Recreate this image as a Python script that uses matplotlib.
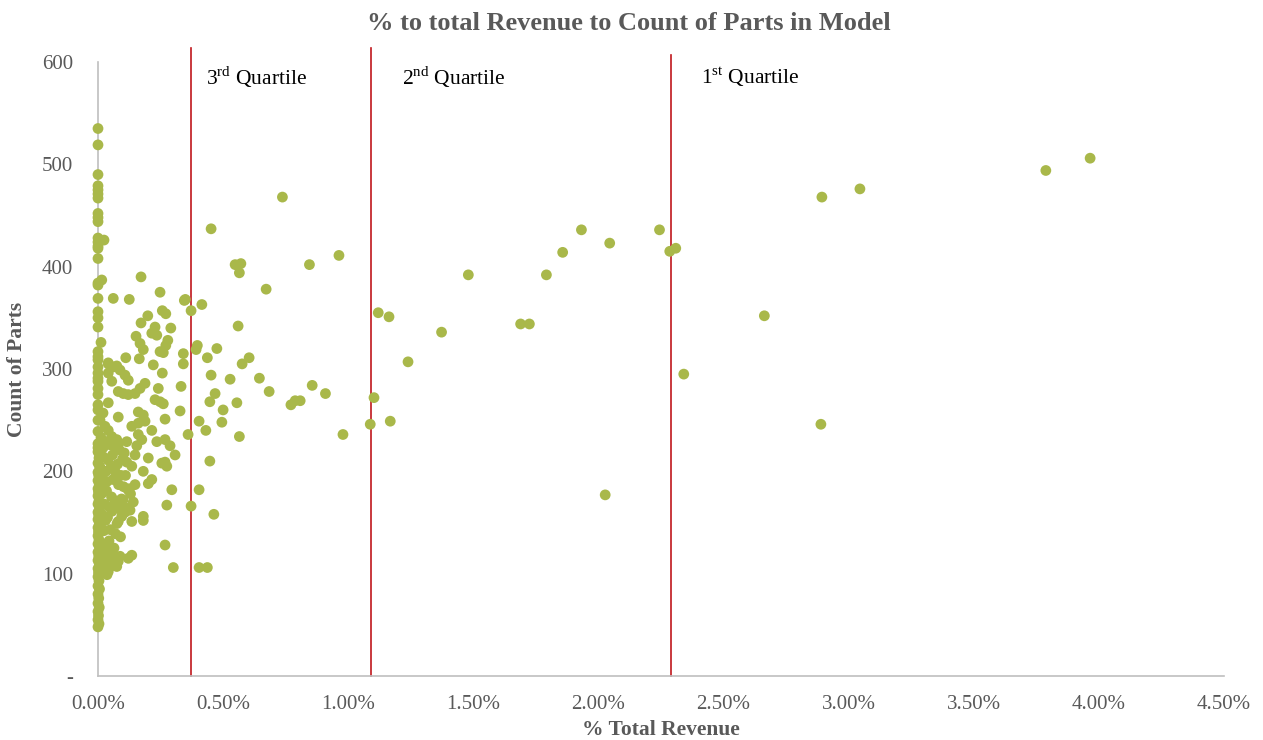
import matplotlib
matplotlib.use("Agg")
import matplotlib.pyplot as plt
from matplotlib.ticker import FixedLocator, FuncFormatter

plt.rcParams["font.family"] = ["Liberation Serif", "DejaVu Serif"]
plt.rcParams["mathtext.fontset"] = "custom"
plt.rcParams["mathtext.rm"] = "Liberation Serif"

# Share of total revenue (%) per model, and the number of parts in that model
revenue_pct = [
    # high-revenue models
    3.788, 3.965, 2.893, 3.045, 2.663, 2.889, 2.341, 2.027,
    1.932, 2.045, 2.244, 2.285, 2.309, 1.857, 1.792, 1.480,
    1.689, 1.724, 1.373, 1.120, 1.163, 1.239, 1.103, 1.088, 1.168,
    # mid-revenue models
    0.737, 0.452, 0.548, 0.571, 0.565, 0.845, 0.963, 0.672, 0.349, 0.415,
    0.372, 0.560, 0.397, 0.392, 0.475, 0.341, 0.437, 0.604, 0.576, 0.341,
    0.452, 0.528, 0.645, 0.684, 0.856, 0.909, 0.771, 0.788, 0.808, 0.332,
    0.468, 0.447, 0.555, 0.500, 0.328, 0.404, 0.495, 0.431, 0.360, 0.565,
    0.979, 0.447, 0.404, 0.372, 0.463, 0.404, 0.437, 0.301, 0.268, 0.345,
    # low-revenue models
    0.248, 0.172, 0.125, 0.061, 0.257, 0.271, 0.199, 0.172, 0.228, 0.215,
    0.235, 0.291, 0.152, 0.168, 0.181, 0.279, 0.271, 0.248, 0.261, 0.165,
    0.111, 0.221, 0.257, 0.088, 0.108, 0.121, 0.055, 0.188, 0.168, 0.148,
    0.121, 0.101, 0.081, 0.241, 0.228, 0.248, 0.261, 0.041, 0.081, 0.161,
    0.181, 0.161, 0.188, 0.135, 0.215, 0.268, 0.115, 0.081, 0.235, 0.268,
    0.288, 0.161, 0.175, 0.155, 0.308, 0.201, 0.255, 0.275, 0.268, 0.181,
    0.148, 0.135, 0.148, 0.215, 0.201, 0.295, 0.275, 0.181, 0.141, 0.128,
    0.095, 0.081, 0.135, 0.181, 0.135, 0.121, 0.088, 0.081, 0.075, 0.041,
    0.028, 0.055, 0.021,
    0.015, 0.024, 0.012, 0.041, 0.075, 0.041, 0.061, 0.041, 0.020, 0.008,
    0.028, 0.041, 0.055, 0.075, 0.020,
    # dense core of very small contributors
    0.012, 0.030, 0.048, 0.065, 0.085, 0.105, 0.022, 0.040, 0.058, 0.078,
    0.098, 0.115, 0.010, 0.032, 0.052, 0.070, 0.092, 0.018, 0.036, 0.060,
    0.082, 0.102, 0.120, 0.014, 0.034, 0.054, 0.072, 0.094, 0.026, 0.046,
    0.066, 0.088, 0.108, 0.016, 0.038, 0.056, 0.076, 0.010, 0.030, 0.050,
    0.070, 0.090, 0.024, 0.044, 0.064, 0.012, 0.034, 0.054, 0.020, 0.042,
    0.062, 0.018, 0.036, 0.014, 0.028, 0.110, 0.125, 0.100, 0.118, 0.130,
    # models on the axis (near-zero revenue)
    0.000, 0.000, 0.000, 0.000, 0.000, 0.000, 0.000, 0.000, 0.000, 0.000,
    0.000, 0.000, 0.000, 0.000, 0.000, 0.000, 0.000, 0.000, 0.000, 0.000,
    0.000, 0.000, 0.000, 0.000, 0.000, 0.000, 0.000, 0.000, 0.000, 0.000,
    0.000, 0.000, 0.000, 0.000, 0.000, 0.000,
    0.000, 0.004, 0.000, 0.006, 0.000, 0.003, 0.000, 0.005, 0.000, 0.002,
    0.000, 0.004, 0.000, 0.006, 0.000, 0.003, 0.000, 0.005, 0.000, 0.002,
    0.000, 0.004, 0.000, 0.006, 0.000, 0.003, 0.000, 0.005, 0.000, 0.002,
    0.000, 0.004, 0.000, 0.006, 0.000, 0.003, 0.000, 0.005, 0.000, 0.002,
    0.000, 0.004, 0.000,
]
part_count = [
    494, 506, 468, 476, 352, 246, 295, 177,
    436, 423, 436, 415, 418, 414, 392, 392,
    344, 344, 336, 355, 351, 307, 272, 246, 249,
    468, 437, 402, 403, 394, 402, 411, 378, 368, 363,
    357, 342, 323, 319, 320, 315, 311, 311, 305, 305,
    294, 290, 291, 278, 284, 276, 265, 269, 269, 283,
    276, 268, 267, 260, 259, 249, 248, 240, 236, 234,
    236, 210, 182, 166, 158, 106, 106, 106, 128, 367,
    375, 390, 368, 369, 357, 354, 352, 345, 341, 335,
    333, 340, 332, 325, 319, 328, 323, 317, 316, 310,
    311, 304, 296, 299, 294, 289, 288, 286, 281, 276,
    275, 276, 278, 281, 270, 268, 266, 267, 253, 258,
    255, 247, 249, 244, 240, 251, 229, 227, 229, 231,
    225, 236, 231, 225, 216, 213, 208, 205, 209, 200,
    216, 205, 187, 192, 188, 182, 167, 156, 170, 162,
    156, 151, 151, 152, 118, 115, 117, 112, 107, 102,
    120, 121, 128,
    387, 426, 326, 305, 303, 306, 302, 296, 257, 250,
    244, 240, 234, 231, 223,
    233, 229, 226, 224, 221, 218, 214, 211, 216, 207,
    212, 209, 203, 200, 204, 199, 196, 193, 190, 192,
    187, 185, 182, 178, 181, 175, 171, 173, 168, 165,
    167, 163, 160, 158, 155, 161, 149, 146, 152, 143,
    139, 136, 142, 132, 125, 130, 124, 118, 111, 114,
    108, 104, 99, 104, 110, 196, 183, 172, 164, 178,
    535, 519, 490, 479, 475, 471, 467, 452, 448, 444,
    428, 424, 420, 418, 408, 384, 382, 369, 356, 350,
    341, 317, 309, 302, 296, 288, 281, 275, 260, 250,
    239, 227, 223, 265, 291, 312,
    219, 213, 208, 205, 199, 196, 191, 187, 183, 180,
    176, 171, 168, 163, 160, 157, 153, 148, 145, 141,
    137, 133, 129, 126, 121, 117, 113, 110, 105, 101,
    97, 93, 88, 85, 80, 76, 71, 67, 63, 59,
    55, 51, 48,
]

# Revenue-share thresholds separating the quartiles
quartile_cuts = [0.372, 1.092, 2.288]
quartile_tops = [614, 614, 607]
quartile_names = [r"3$^{\mathrm{rd}}$ Quartile", r"2$^{\mathrm{nd}}$ Quartile",
                  r"1$^{\mathrm{st}}$ Quartile"]
quartile_label_x = [0.432, 1.216, 2.408]

x_ticks = [0.0, 0.5, 1.0, 1.5, 2.0, 2.5, 3.0, 3.5, 4.0, 4.5]
y_ticks = [0, 100, 200, 300, 400, 500, 600]

text_grey = "#595959"
point_green = "#a9b84a"
line_red = "#c0161c"

fig = plt.figure(figsize=(12.63, 7.40), dpi=100)
ax = fig.add_axes([98 / 1263, 1 - 676 / 740, (1224 - 98) / 1263, (676 - 62) / 740])

ax.scatter(revenue_pct, part_count, s=60, color=point_green, edgecolors="none",
           zorder=3, clip_on=False)

for xc, top in zip(quartile_cuts, quartile_tops):
    ax.plot([xc, xc], [0, top], color=line_red, lw=1.2, zorder=2, clip_on=False)
for xl, name in zip(quartile_label_x, quartile_names):
    ax.text(xl, 585, name, fontsize=15.5, color="black", ha="left", va="center")

ax.set_xlim(0, 4.5)
ax.set_ylim(0, 600)
ax.xaxis.set_major_locator(FixedLocator(x_ticks))
ax.yaxis.set_major_locator(FixedLocator(y_ticks))
ax.xaxis.set_major_formatter(FuncFormatter(lambda v, p: f"{v:.2f}%"))
ax.yaxis.set_major_formatter(FuncFormatter(lambda v, p: "-" if v == 0 else f"{v:.0f}"))
ax.tick_params(axis="both", length=0, labelsize=15, colors=text_grey)
ax.tick_params(axis="x", pad=14)
ax.tick_params(axis="y", pad=18)

for side in ("top", "right"):
    ax.spines[side].set_visible(False)
for side in ("left", "bottom"):
    ax.spines[side].set_color("#bfbfbf")
    ax.spines[side].set_linewidth(1.2)

ax.set_xlabel("% Total Revenue", fontsize=15.5, fontweight="bold", color=text_grey, labelpad=4)
ax.set_ylabel("Count of Parts", fontsize=15.5, fontweight="bold", color=text_grey)
ax.yaxis.set_label_coords(-(98 - 27) / (1224 - 98), 0.5)
fig.text(629 / 1263, 1 - 23 / 740, "% to total Revenue to Count of Parts in Model",
         fontsize=19, fontweight="bold", color=text_grey, ha="center", va="center")

fig.savefig("out.png", dpi=100, facecolor="white")
